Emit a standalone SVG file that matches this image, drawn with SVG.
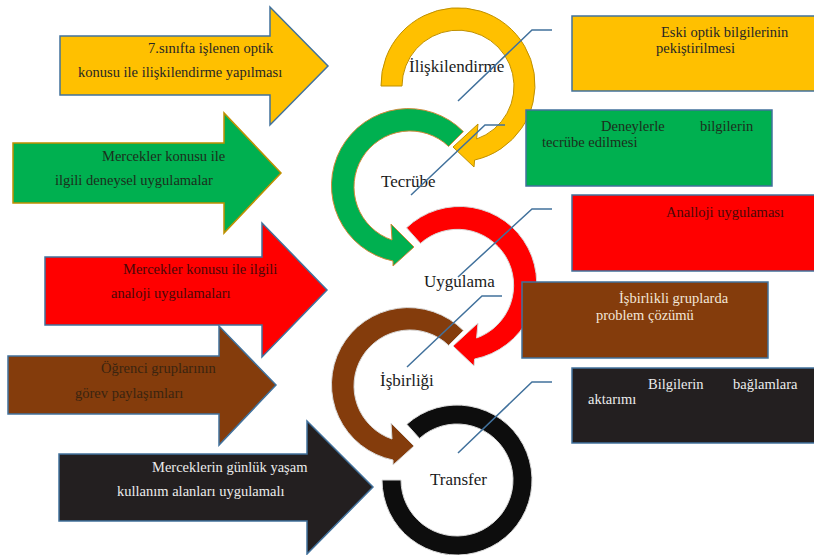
<svg xmlns="http://www.w3.org/2000/svg" width="814" height="555" viewBox="0 0 814 555">
<style>
text{font-family:"Liberation Serif","Times New Roman",serif;font-size:14.5px;}
.ring{font-size:17px;fill:#1a1a1a;}
.bs{stroke:#41719C;stroke-width:1.5;}
.ln{fill:none;stroke:#41719C;stroke-width:1.5;}
.dk{fill:#262626;}
.lt{fill:#ececec;}
.rd{fill:#4a0808;}
</style>
<rect width="814" height="555" fill="#ffffff"/>
<g id="left-arrows">
<g id="arrow-yellow">
<polygon class="bs" fill="#FFC000" points="60,36 270,36 270,7 328,66 270,125 270,95 60,95"/>
<text class="dk" x="148" y="53">7.sınıfta işlenen optik</text>
<text class="dk" x="78" y="77">konusu ile ilişkilendirme yapılması</text>
</g>
<g id="arrow-green">
<polygon fill="#00B050" stroke="#BF9000" stroke-width="1.5" points="13,143 224,143 224,113 281,173 224,233 224,203 13,203"/>
<text fill="#1c2e1c" x="102" y="161">Mercekler konusu ile</text>
<text fill="#1c2e1c" x="55" y="185">ilgili deneysel uygulamalar</text>
</g>
<g id="arrow-red">
<polygon class="bs" fill="#FF0000" points="45,257 262,257 262,223 327,290 262,357 262,325 45,325"/>
<text class="rd" x="123" y="274">Mercekler konusu ile ilgili</text>
<text class="rd" x="111" y="298">analoji uygulamaları</text>
</g>
<g id="arrow-brown">
<polygon class="bs" fill="#843C0C" points="8,356 219,356 219,326 276,385 219,445 219,414 8,414"/>
<text fill="#3a2410" x="101" y="373">Öğrenci gruplarının</text>
<text fill="#3a2410" x="75" y="398">görev paylaşımları</text>
</g>
<g id="arrow-black">
<polygon class="bs" fill="#231F20" points="59,454 307,454 307,421 373,487 307,554 307,521 59,521"/>
<text class="lt" x="152" y="472">Merceklerin günlük yaşam</text>
<text class="lt" x="117" y="496">kullanım alanları uygulamalı</text>
</g>
</g>
<g id="cycle">
<g id="ring-transfer">
<path fill="#0D0D0D" stroke="#d9d9d9" stroke-width="1" d="M406.8,424.3 A75,75 0 1,1 382,480 L401,480 A56,56 0 1,0 419.5,438.4 Z"/>
<text class="ring" x="430" y="485">Transfer</text>
</g>
<g id="ring-isbirligi">
<path fill="#843C0C" stroke="#d9d9d9" stroke-width="1" d="M463.4,330.6 A77,77 0 1,0 393,460 L393,465 L414,446 L391,423 L392,439 A56,56 0 1,1 448.6,345.4 Z"/>
<text class="ring" x="380" y="386">İşbirliği</text>
</g>
<g id="ring-uygulama">
<path fill="#FF0000" stroke="#d9d9d9" stroke-width="1" d="M406.5,227.8 A77,77 0 1,1 474.6,359 L474,366 L453,346 L478,323 L476.6,338 A56,56 0 1,0 420.5,243.4 Z"/>
<text class="ring" x="424" y="287">Uygulama</text>
</g>
<g id="ring-tecrube">
<path fill="#00B050" stroke="#D08A3A" stroke-width="1" d="M463.4,131.6 A77,77 0 1,0 393,261 L393,266 L414,247 L391,224 L392,240 A56,56 0 1,1 448.6,146.4 Z"/>
<text class="ring" x="381" y="187">Tecrübe</text>
</g>
<g id="ring-iliskilendirme">
<path fill="#FFC000" stroke="#BF9000" stroke-width="1" d="M381,86 A77,77 0 1,1 474.6,160 L474,167 L453,147 L478,124 L476.6,139 A56,56 0 1,0 402,86 Z"/>
<text class="ring" x="409" y="72">İlişkilendirme</text>
</g>
</g>
<g id="right-boxes">
<g id="box-yellow">
<rect class="bs" fill="#FFC000" x="572" y="16" width="250" height="75"/>
<text class="dk" x="661" y="37">Eski optik bilgilerinin</text>
<text class="dk" x="656" y="53">pekiştirilmesi</text>
</g>
<g id="box-green">
<rect class="bs" fill="#00B050" x="526" y="110" width="246" height="76"/>
<text fill="#1c2e1c" x="601" y="131">Deneylerle</text>
<text fill="#1c2e1c" x="700" y="131">bilgilerin</text>
<text fill="#1c2e1c" x="542" y="147">tecrübe edilmesi</text>
</g>
<g id="box-red">
<rect class="bs" fill="#FF0000" x="572" y="195" width="250" height="76"/>
<text class="rd" x="666" y="217">Analloji uygulaması</text>
</g>
<g id="box-brown">
<rect class="bs" fill="#843C0C" x="522" y="282" width="246" height="76"/>
<text fill="#f3e6d8" x="619" y="303">İşbirlikli gruplarda</text>
<text fill="#f3e6d8" x="596" y="320">problem çözümü</text>
</g>
<g id="box-black">
<rect class="bs" fill="#231F20" x="572" y="368" width="250" height="75"/>
<text class="lt" x="648" y="389">Bilgilerin</text>
<text class="lt" x="733" y="389">bağlamlara</text>
<text class="lt" x="588" y="404">aktarımı</text>
</g>
</g>
<g id="connectors">
<polyline class="ln" points="458,101 532,30 552,30"/>
<polyline class="ln" points="411,195 485,125 505,125"/>
<polyline class="ln" points="458,277 532,209 552,209"/>
<polyline class="ln" points="407,367 482,296 502,296"/>
<polyline class="ln" points="458,453 532,382 552,382"/>
</g>
</svg>
